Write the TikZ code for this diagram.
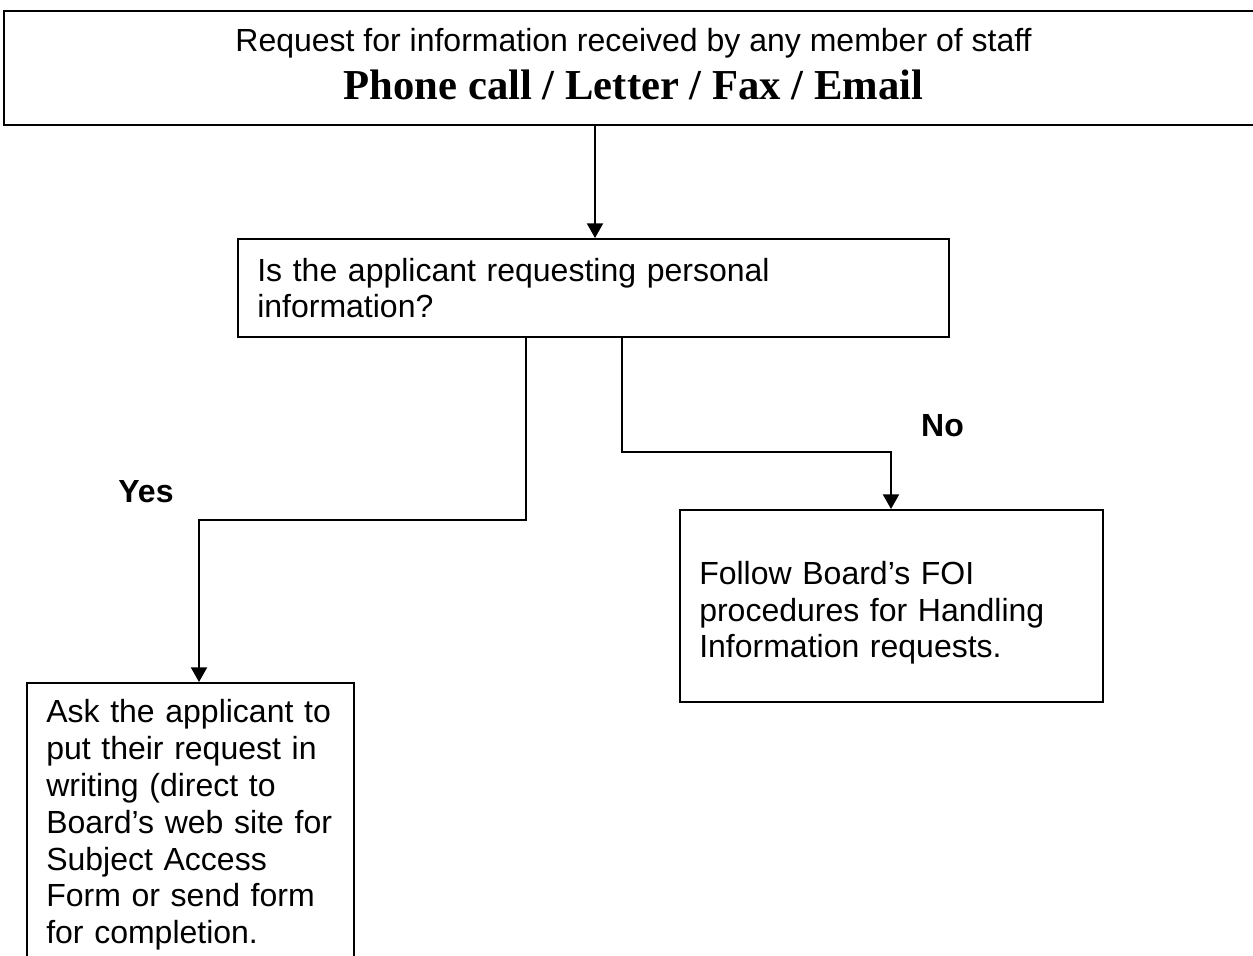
\documentclass[tikz,border=0pt]{standalone}
\usepackage{fontspec}
\setmainfont{Liberation Serif}
\setsansfont{Liberation Sans}
\usetikzlibrary{arrows.meta}
\newcommand{\boxfont}{\sffamily\fontsize{12}{13.8}\selectfont}
\tikzset{
  box/.style={draw, line width=0.8pt, inner xsep=7.2pt, inner ysep=0pt, align=left, font=\boxfont},
  flow/.style={-{Triangle[length=5.5pt,width=6pt]}, line width=0.8pt},
  lab/.style={font=\sffamily\bfseries\fontsize{12}{13.8}\selectfont}
}

\begin{document}
\begin{tikzpicture}[x=0.375pt, y=-0.375pt]
  \useasboundingbox (0,0) rectangle (1253,956);
  \clip (0,0) rectangle (1253,956);

  % request box (runs off the right edge)
  \node[box, align=center, anchor=north west, minimum width=472.1pt, minimum height=42.75pt,
        font=\fontsize{12}{18}\selectfont] (req) at (3,10)
    {{\sffamily Request for information received by any member of staff}\\
     {\rmfamily\bfseries\fontsize{16}{18}\selectfont Phone call / Letter / Fax / Email\rule[-3.4pt]{0pt}{0pt}}};

  % question
  \node[box, anchor=north west, minimum width=266.6pt, minimum height=36.75pt, text width=252.2pt] (ask) at (237,238)
    {Is the applicant requesting personal\\ information?};

  % outcomes
  \node[box, anchor=north west, minimum width=158.6pt, minimum height=72pt, text width=144.2pt] (foi) at (679,509)
    {\rule{0pt}{13.8pt}Follow Board's FOI\\ procedures for Handling\\ Information requests.};
  \node[box, anchor=north west, minimum width=122.6pt, minimum height=106.5pt, text width=108.2pt] (sar) at (26,682)
    {Ask the applicant to\\ put their request in\\ writing (direct to\\ Board's web site for\\ Subject Access\\ Form or send form\\ for completion.};

  \node[lab] (yes) at (146,492) {Yes};
  \node[lab] (no) at (942.5,426) {No};

  % connectors
  \draw[flow] (595,0 |- req.south) -- (595,0 |- ask.north);
  \draw[flow] (526,0 |- ask.south) |- (199,520) -- (199,0 |- sar.north);
  \draw[flow] (622,0 |- ask.south) |- (891,452) -- (891,0 |- foi.north);
\end{tikzpicture}
\end{document}
